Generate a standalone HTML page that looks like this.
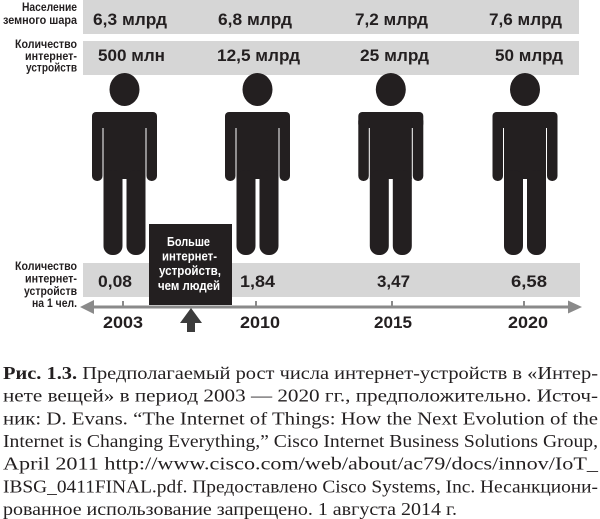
<!DOCTYPE html>
<html><head><meta charset="utf-8"><style>
html,body{margin:0;padding:0;background:#fff;}
svg{display:block;}
.v{font-family:"Liberation Sans",sans-serif;font-weight:bold;font-size:17px;fill:#231f20;}
.l{font-family:"Liberation Sans",sans-serif;font-weight:bold;font-size:12px;fill:#231f20;}
.b{font-family:"Liberation Sans",sans-serif;font-weight:bold;font-size:13px;fill:#fff;}
.c{font-family:"Liberation Serif",serif;font-size:17.5px;fill:#231f20;}
</style></head><body>
<svg width="600" height="519" viewBox="0 0 600 519" xmlns="http://www.w3.org/2000/svg">
<defs>
<g id="p">
<ellipse cx="0" cy="89.5" rx="15" ry="16.5" fill="#231f20"/>
<rect x="-32.5" y="112" width="65" height="16" rx="4" fill="#231f20"/>
<rect x="-32.5" y="116" width="10.5" height="65" rx="5" fill="#231f20"/>
<rect x="22" y="116" width="10.5" height="65" rx="5" fill="#231f20"/>
<rect x="-21" y="116" width="42" height="63" fill="#231f20"/>
<rect x="-21" y="170" width="19" height="85" rx="9" fill="#231f20"/>
<rect x="2" y="170" width="19" height="85" rx="9" fill="#231f20"/>
</g>
</defs>
<rect x="83" y="0" width="496" height="34" fill="#d6d6d6"/>
<rect x="83" y="41" width="496" height="34" fill="#d6d6d6"/>
<rect x="83" y="263" width="497" height="34" fill="#d6d6d6"/>

<text class="l" x="22" y="11" textLength="55" lengthAdjust="spacingAndGlyphs">Население</text>
<text class="l" x="3" y="24" textLength="74" lengthAdjust="spacingAndGlyphs">земного шара</text>
<text class="l" x="15" y="48" textLength="62" lengthAdjust="spacingAndGlyphs">Количество</text>
<text class="l" x="25" y="60" textLength="52" lengthAdjust="spacingAndGlyphs">интернет-</text>
<text class="l" x="26" y="71.5" textLength="51" lengthAdjust="spacingAndGlyphs">устройств</text>

<text class="l" x="15" y="270" textLength="62" lengthAdjust="spacingAndGlyphs">Количество</text>
<text class="l" x="25" y="282.5" textLength="52" lengthAdjust="spacingAndGlyphs">интернет-</text>
<text class="l" x="24" y="295" textLength="53" lengthAdjust="spacingAndGlyphs">устройств</text>
<text class="l" x="32" y="307" textLength="45" lengthAdjust="spacingAndGlyphs">на 1 чел.</text>

<text class="v" x="93" y="25" textLength="74" lengthAdjust="spacingAndGlyphs">6,3 млрд</text>
<text class="v" x="218" y="25" textLength="74" lengthAdjust="spacingAndGlyphs">6,8 млрд</text>
<text class="v" x="355" y="25" textLength="73" lengthAdjust="spacingAndGlyphs">7,2 млрд</text>
<text class="v" x="489" y="25" textLength="73" lengthAdjust="spacingAndGlyphs">7,6 млрд</text>

<text class="v" x="98" y="61" textLength="67" lengthAdjust="spacingAndGlyphs">500 млн</text>
<text class="v" x="217" y="61" textLength="83" lengthAdjust="spacingAndGlyphs">12,5 млрд</text>
<text class="v" x="360" y="61" textLength="69" lengthAdjust="spacingAndGlyphs">25 млрд</text>
<text class="v" x="495" y="61" textLength="68" lengthAdjust="spacingAndGlyphs">50 млрд</text>

<use href="#p" x="124.5" y="0"/>
<use href="#p" x="257.5" y="0"/>
<use href="#p" x="390.8" y="0"/>
<use href="#p" x="525" y="0"/>

<text class="v" x="98" y="287" textLength="34" lengthAdjust="spacingAndGlyphs">0,08</text>
<text class="v" x="240" y="287" textLength="35" lengthAdjust="spacingAndGlyphs">1,84</text>
<text class="v" x="377" y="287" textLength="33" lengthAdjust="spacingAndGlyphs">3,47</text>
<text class="v" x="511" y="287" textLength="36" lengthAdjust="spacingAndGlyphs">6,58</text>

<rect x="149" y="224" width="83" height="81" fill="#231f20"/>
<text class="b" x="167" y="246" textLength="43" lengthAdjust="spacingAndGlyphs">Больше</text>
<text class="b" x="162" y="260.5" textLength="55" lengthAdjust="spacingAndGlyphs">интернет-</text>
<text class="b" x="159" y="275" textLength="62" lengthAdjust="spacingAndGlyphs">устройств,</text>
<text class="b" x="158" y="290" textLength="62" lengthAdjust="spacingAndGlyphs">чем людей</text>

<line x1="92" y1="307" x2="570" y2="307" stroke="#8a8a8a" stroke-width="3"/>
<polygon points="80,307 94,300 94,314" fill="#8a8a8a"/>
<polygon points="582,307 568,300.5 568,313.5" fill="#8a8a8a"/>
<rect x="122" y="301" width="2" height="6" fill="#8a8a8a"/>
<rect x="255" y="301" width="2" height="6" fill="#8a8a8a"/>
<rect x="391" y="301" width="2" height="6" fill="#8a8a8a"/>
<rect x="523" y="301" width="2" height="6" fill="#8a8a8a"/>

<polygon points="180,323 191,308 202,323" fill="#3c3c3c"/>
<rect x="187" y="321" width="8" height="11" fill="#3c3c3c"/>

<text class="v" x="103" y="328" textLength="40" lengthAdjust="spacingAndGlyphs">2003</text>
<text class="v" x="240" y="328" textLength="40" lengthAdjust="spacingAndGlyphs">2010</text>
<text class="v" x="374" y="328" textLength="38" lengthAdjust="spacingAndGlyphs">2015</text>
<text class="v" x="508" y="328" textLength="40" lengthAdjust="spacingAndGlyphs">2020</text>

<text class="c" x="3" y="379" textLength="595" lengthAdjust="spacingAndGlyphs"><tspan font-weight="bold">Рис. 1.3.</tspan> Предполагаемый рост числа интернет-устройств в «Интер-</text>
<text class="c" x="3" y="401.7" textLength="595" lengthAdjust="spacingAndGlyphs">нете вещей» в период 2003 — 2020 гг., предположительно. Источ-</text>
<text class="c" x="3" y="424.3" textLength="595" lengthAdjust="spacingAndGlyphs">ник: D. Evans. “The Internet of Things: How the Next Evolution of the</text>
<text class="c" x="3" y="447" textLength="595" lengthAdjust="spacingAndGlyphs">Internet is Changing Everything,” Cisco Internet Business Solutions Group,</text>
<text class="c" x="3" y="469.7" textLength="595" lengthAdjust="spacingAndGlyphs">April 2011 http://www.cisco.com/web/about/ac79/docs/innov/IoT_</text>
<text class="c" x="3" y="492.3" textLength="595" lengthAdjust="spacingAndGlyphs">IBSG_0411FINAL.pdf. Предоставлено Cisco Systems, Inc. Несанкциони-</text>
<text class="c" x="3" y="515" textLength="454" lengthAdjust="spacingAndGlyphs">рованное использование запрещено. 1 августа 2014 г.</text>
</svg>
</body></html>
